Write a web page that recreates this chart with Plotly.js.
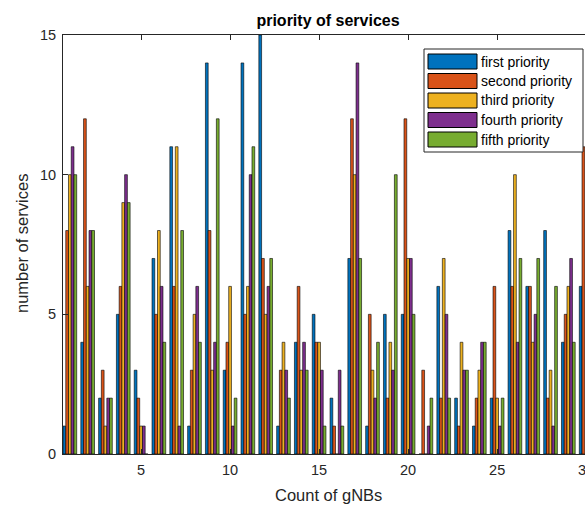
<!DOCTYPE html>
<html>
<head>
<meta charset="utf-8">
<script src="https://cdn.plot.ly/plotly-3.0.1.min.js"></script>
<style>
html,body{margin:0;padding:0;overflow:hidden;background:#fff;width:585px;height:506px;}
#chart{width:600px;height:506px;}
</style>
</head>
<body>
<div id="chart"></div>
<script>
// ---- data ----
const gnbs = [1,2,3,4,5,6,7,8,9,10,11,12,13,14,15,16,17,18,19,20,21,22,23,24,25,26,27,28,29,30];
const seriesNames = ["first priority","second priority","third priority","fourth priority","fifth priority"];
const firstPriority  = [1,4,2,5,3,7,11,1,14,3,14,15,1,4,5,2,7,1,5,5,0,6,2,1,2,8,6,8,4,6];
const secondPriority = [8,12,3,6,2,5,6,3,8,4,5,7,3,6,4,1,12,5,2,12,3,2,1,2,6,6,6,2,5,11];
const thirdPriority  = [10,6,1,9,1,8,11,5,3,6,6,5,4,3,4,0,10,3,4,7,0,7,4,3,2,10,4,3,6,null];
const fourthPriority = [11,8,2,10,1,6,1,6,4,1,10,6,3,4,3,3,14,2,3,7,1,5,3,4,1,4,5,1,7,null];
const fifthPriority  = [10,8,2,9,0,4,8,4,12,2,11,7,2,3,1,1,7,4,10,5,2,2,3,4,2,7,7,6,4,null];
const xTicks = [5,10,15,20,25,30];
const yTicks = [0,5,10,15];
const chartTitle = "priority of services";
const xLabel = "Count of gNBs";
const yLabel = "number of services";

const seriesValues = [firstPriority, secondPriority, thirdPriority, fourthPriority, fifthPriority];
const colors = ["#0072BD","#D95319","#EDB120","#7E2F8E","#77AC30"];
const axisColor = "#262626";
const font = "Liberation Sans, Arial, Helvetica, sans-serif";

const traces = seriesValues.map((vals, i) => ({
  type: "bar",
  x: gnbs,
  y: vals,
  name: seriesNames[i],
  marker: {color: colors[i], line: {color: "#000", width: 0.6}},
  showlegend: false,
  hoverinfo: "skip"
}));

// plot area in pixels
const L = 63, R = 593, T = 35, B = 454;
const px = X => (X - L) / (R - L);
const py = Y => (B - Y) / (B - T);

const shapes = [];
const annotations = [];
// legend box
shapes.push({type:"rect", xref:"paper", yref:"paper", layer:"above",
  x0:px(424), x1:px(583), y0:py(152), y1:py(49),
  fillcolor:"#fff", line:{color:axisColor, width:1}});
seriesNames.forEach((n, i) => {
  const cy = 61.5 + 19.5 * i;
  shapes.push({type:"rect", xref:"paper", yref:"paper", layer:"above",
    x0:px(428), x1:px(477), y0:py(cy + 7.5), y1:py(cy - 7.5),
    fillcolor:colors[i], line:{color:"#000", width:1}});
  annotations.push({xref:"paper", yref:"paper", x:px(479), y:py(cy),
    xanchor:"left", yanchor:"middle", showarrow:false, text:n,
    font:{family:font, size:14, color:"#000"}});
});
// axis labels
annotations.push({xref:"paper", yref:"paper", x:px(328), y:py(495), xanchor:"center", yanchor:"middle",
  showarrow:false, text:xLabel, font:{family:font, size:16.5, color:axisColor}});
annotations.push({xref:"paper", yref:"paper", x:px(22), y:py(244), xanchor:"center", yanchor:"middle",
  showarrow:false, textangle:-90, text:yLabel, font:{family:font, size:16.5, color:axisColor}});

const layout = {
  width: 600, height: 506,
  margin: {l: L, r: 600 - R, t: T, b: 506 - B, pad: 0},
  paper_bgcolor: "#fff", plot_bgcolor: "#fff",
  barmode: "group", bargap: 0.231, bargroupgap: 0,
  font: {family: font, color: axisColor},
  title: {text: chartTitle, font: {family: font, size: 16, weight: "bold", color: "#000"},
          xref: "paper", x: 0.5, xanchor: "center", yref: "container", y: 1 - 20/506, yanchor: "middle"},
  xaxis: {range: [0.615, 30.385], tickvals: xTicks, ticks: "inside", ticklen: 5, tickwidth: 1,
          tickcolor: axisColor, showline: true, linecolor: axisColor, linewidth: 1, mirror: "ticks",
          showgrid: false, zeroline: false, tickfont: {family: font, size: 14.5, color: axisColor},
          ticklabelstandoff: 3, automargin: false, fixedrange: true},
  yaxis: {range: [0, 15], tickvals: yTicks, ticks: "inside", ticklen: 5, tickwidth: 1,
          tickcolor: axisColor, showline: true, linecolor: axisColor, linewidth: 1, mirror: "ticks",
          showgrid: false, zeroline: false, tickfont: {family: font, size: 14.5, color: axisColor},
          ticklabelstandoff: 3, automargin: false, fixedrange: true},
  shapes: shapes,
  annotations: annotations,
  showlegend: false
};

Plotly.newPlot("chart", traces, layout, {staticPlot: true, displayModeBar: false});
</script>
</body>
</html>
